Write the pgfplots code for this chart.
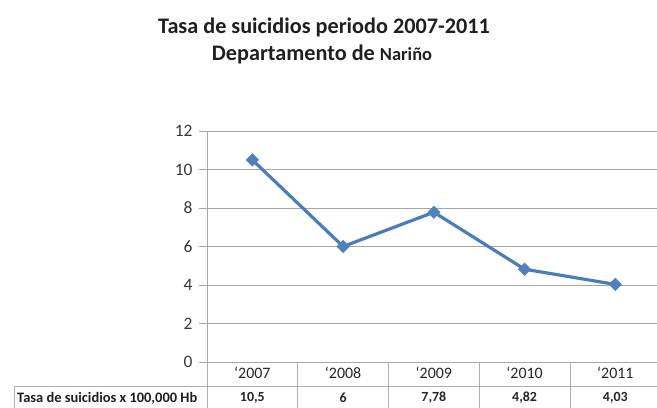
\documentclass[border=0pt]{standalone}
\usepackage{pgfplots}
\pgfplotsset{compat=1.18}
\usepackage{fontspec}
\setmainfont{Carlito}
\definecolor{lineblue}{HTML}{4A7EBB}
\definecolor{markblue}{HTML}{4F81BD}
\definecolor{gridgray}{HTML}{A6A6A6}
\definecolor{tablegray}{HTML}{B0B0B0}
\begin{document}
\begin{tikzpicture}
\begin{axis}[
  name=ax, at={(0,0)}, anchor=south west,
  scale only axis, width=450bp, height=231bp,
  xmin=-0.5, xmax=4.459, ymin=0, ymax=12,
  axis lines=left, axis line style={-, draw=gridgray, line width=0.9pt},
  ytick={0,2,...,12},
  ymajorgrids, grid style={gridgray, line width=0.9pt},
  tick align=outside, major tick length=8bp,
  ytick style={gridgray, line width=0.9pt},
  xtick={0,1,2,3,4},
  xticklabels={`2007,`2008,`2009,`2010,`2011},
  xtick style={draw=none},
  xticklabel style={anchor=center, yshift=-3bp, font=\fontsize{16}{18}\selectfont, text=black!85},
  yticklabel style={font=\fontsize{17.5}{19}\selectfont, text=black!78, xshift=-3bp},
  /pgf/number format/assume math mode=true,
  clip=false,
]
\addplot[lineblue, line width=3.2pt, mark=square*, mark size=4.4bp,
  mark options={fill=markblue, draw=markblue, line width=0.5pt, rotate=45}]
  coordinates {(0,10.5) (1,6) (2,7.78) (3,4.82) (4,4.03)};
% table grid
\foreach \xx in {-0.5,0.5,1.5,2.5,3.5}{
  \edef\tmp{\noexpand\draw[tablegray, line width=0.9pt] (axis cs:\xx,0) -- ++(0pt,-46bp);}\tmp
}
\draw[tablegray, line width=0.9pt] ([xshift=-193bp,yshift=-24bp]axis cs:-0.5,0) -- ++(655bp,0pt);
\draw[tablegray, line width=0.9pt] ([xshift=-193bp,yshift=-24bp]axis cs:-0.5,0) -- ++(0pt,-24bp);
\node[font=\fontsize{14.5}{16}\selectfont\bfseries, text=black!88, anchor=west, inner sep=0pt] at ([xshift=-190bp,yshift=-36bp]axis cs:-0.5,0) {Tasa de suicidios x 100,000 Hb};
\node[font=\fontsize{14}{15}\selectfont\bfseries, text=black!85] at ([yshift=-36bp]axis cs:0,0) {10,5};
\node[font=\fontsize{14}{15}\selectfont\bfseries, text=black!85] at ([yshift=-36bp]axis cs:1,0) {6};
\node[font=\fontsize{14}{15}\selectfont\bfseries, text=black!85] at ([yshift=-36bp]axis cs:2,0) {7,78};
\node[font=\fontsize{14}{15}\selectfont\bfseries, text=black!85] at ([yshift=-36bp]axis cs:3,0) {4,82};
\node[font=\fontsize{14}{15}\selectfont\bfseries, text=black!85] at ([yshift=-36bp]axis cs:4,0) {4,03};
\end{axis}
\node[font=\fontsize{22.3}{24}\selectfont\bfseries, text=black!88] at (117bp,335bp) {Tasa de suicidios periodo 2007-2011};
\node[font=\fontsize{22.3}{24}\selectfont\bfseries, text=black!88] at (115bp,308bp) {Departamento de {\fontsize{18.5}{20}\selectfont Nariño}};
\pgfresetboundingbox
\path[use as bounding box] (-207bp,362bp) rectangle (450bp,-46bp);
\end{tikzpicture}
\end{document}
